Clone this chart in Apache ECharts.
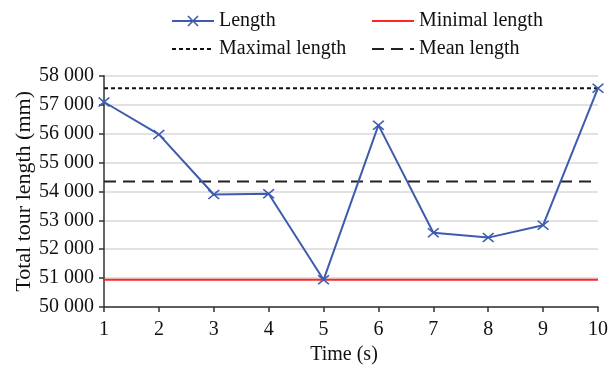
<!DOCTYPE html>
<html>
<head>
<meta charset="utf-8">
<script src="https://cdn.jsdelivr.net/npm/echarts@6/dist/echarts.min.js"></script>
<style>
  html, body { margin: 0; padding: 0; background: #ffffff; }
  #chart { width: 616px; height: 370px; }
</style>
</head>
<body>
<div id="chart"></div>
<script>
// ---- data ----
var timeSteps = [1, 2, 3, 4, 5, 6, 7, 8, 9, 10];
var tourLengths = [57090, 55970, 53890, 53920, 50940, 56290, 52570, 52400, 52830, 57570];
var minimalLength = [50940, 50940];
var maximalLength = [57570, 57570];
var meanLength = [54340, 54340];
var refLineX = [1, 10];
var yTicks = [50000, 51000, 52000, 53000, 54000, 55000, 56000, 57000, 58000];
var seriesNames = ['Length', 'Minimal length', 'Maximal length', 'Mean length'];

function pairs(xs, ys) { return xs.map(function (x, i) { return [x, ys[i]]; }); }
function fmt(v) { return String(v).replace(/\B(?=(\d{3})+(?!\d))/g, ' '); }

var FONT = 'Liberation Serif';
var blue = '#3d5cae';
var crossPath = 'path://M0,1 L1,0 L5,4 L9,0 L10,1 L6,5 L10,9 L9,10 L5,6 L1,10 L0,9 L4,5 Z';

var legendBase = {
  itemWidth: 42, itemHeight: 14, itemGap: 0,
  textStyle: { fontFamily: FONT, fontSize: 20, color: '#111' },
  padding: 0
};
function lg(name, left, top, hideSymbol) {
  var item = hideSymbol ? { name: name, itemStyle: { color: 'rgba(0,0,0,0)', borderWidth: 0, opacity: 0 } } : name;
  return Object.assign({}, legendBase, { data: [item], left: left, top: top });
}

var chart = echarts.init(document.getElementById('chart'));
chart.setOption({
  backgroundColor: '#ffffff',
  animation: false,
  textStyle: { fontFamily: FONT },
  legend: [
    lg(seriesNames[0], 171, 11, false),
    lg(seriesNames[1], 371, 11, true),
    lg(seriesNames[2], 171, 39, true),
    lg(seriesNames[3], 371, 39, true)
  ],
  grid: { left: 104, right: 18, top: 75.7, bottom: 60.7, containLabel: false },
  xAxis: {
    type: 'value',
    min: timeSteps[0], max: timeSteps[timeSteps.length - 1], interval: 1,
    name: 'Time (s)', nameLocation: 'middle', nameGap: 38, nameMoveOverlap: false,
    nameTextStyle: { fontFamily: FONT, fontSize: 20, color: '#111', padding: [0, 14, 0, 0] },
    axisLine: { lineStyle: { color: '#333', width: 1.5 } },
    axisTick: { show: true, length: 5, lineStyle: { color: '#333', width: 1.5 } },
    axisLabel: { fontFamily: FONT, fontSize: 20, color: '#111', margin: 13 },
    splitLine: { show: false }
  },
  yAxis: {
    type: 'value',
    min: yTicks[0], max: yTicks[yTicks.length - 1], interval: 1000,
    name: 'Total tour length (mm)', nameLocation: 'middle', nameGap: 69, nameMoveOverlap: false,
    nameTextStyle: { fontFamily: FONT, fontSize: 22, color: '#111' },
    axisLine: { show: true, lineStyle: { color: '#333', width: 1.5 } },
    axisTick: { show: true, length: 5, lineStyle: { color: '#333', width: 1.5 } },
    axisLabel: { fontFamily: FONT, fontSize: 20, color: '#111', margin: 10, formatter: fmt },
    splitLine: { show: true, lineStyle: { color: '#d9d9d9', width: 1.5 } }
  },
  series: [
    {
      name: seriesNames[0], type: 'line', data: pairs(timeSteps, tourLengths),
      symbol: crossPath, symbolSize: [12, 10], showSymbol: true,
      lineStyle: { color: blue, width: 2 },
      itemStyle: { color: blue },
      z: 5
    },
    {
      name: seriesNames[1], type: 'line', data: pairs(refLineX, minimalLength),
      symbol: 'none', lineStyle: { color: '#ff2626', width: 2 }, itemStyle: { color: '#ff2626' }
    },
    {
      name: seriesNames[2], type: 'line', data: pairs(refLineX, maximalLength),
      symbol: 'none', lineStyle: { color: '#111', width: 2, type: [4, 3] }, itemStyle: { color: '#111' }
    },
    {
      name: seriesNames[3], type: 'line', data: pairs(refLineX, meanLength),
      symbol: 'none', lineStyle: { color: '#222', width: 2, type: [12, 7] }, itemStyle: { color: '#222' }
    }
  ]
});
</script>
</body>
</html>
